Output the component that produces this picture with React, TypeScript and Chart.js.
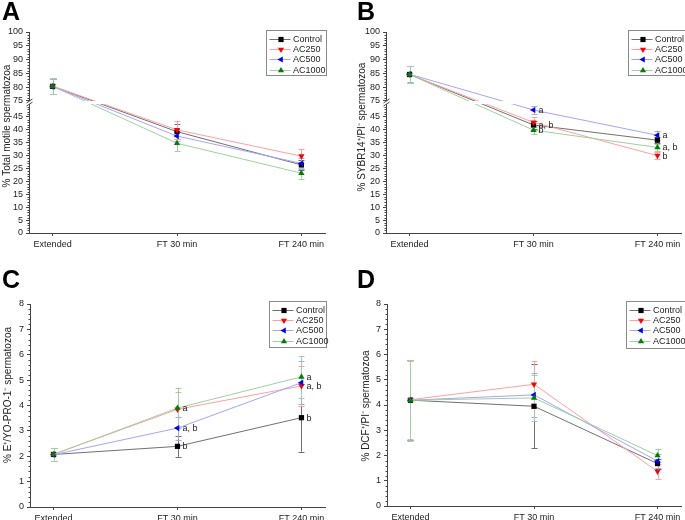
import React, { useEffect, useRef } from 'react';
import { Chart, registerables } from 'chart.js';
Chart.register(...registerables);

// ---------- data ----------
const categories = ['Extended', 'FT 30 min', 'FT 240 min'];
const seriesNames = ['Control', 'AC250', 'AC500', 'AC1000'];

// Panel A: % Total motile spermatozoa
const aControl = [80.3, 39.3, 26.4];
const aAC250 = [80.4, 40.0, 29.8];
const aAC500 = [80.2, 37.6, 27.0];
const aAC1000 = [80.3, 34.8, 23.2];
const aControlErr = [2.8, 2.9, 2.0];
const aAC250Err = [2.8, 3.6, 2.8];
const aAC500Err = [2.8, 2.0, 2.0];
const aAC1000Err = [2.9, 3.0, 2.2];

// Panel B: % SYBR14+/PI- spermatozoa
const bControl = [84.6, 41.9, 36.0];
const bAC250 = [84.6, 42.9, 30.0];
const bAC500 = [84.7, 47.7, 37.9];
const bAC1000 = [84.6, 39.9, 33.2];
const bControlErr = [3.0, 1.5, 1.2];
const bAC250Err = [3.0, 1.9, 1.3];
const bAC500Err = [3.0, 1.5, 1.8];
const bAC1000Err = [3.1, 1.6, 1.5];
const bControlNotes = ['', 'a, b', ''];
const bAC250Notes = ['', '', 'b'];
const bAC500Notes = ['', 'a', 'a'];
const bAC1000Notes = ['', 'b', 'a, b'];

// Panel C: % E+/YO-PRO-1- spermatozoa
const cControl = [2.07, 2.39, 3.52];
const cAC250 = [2.08, 3.85, 4.77];
const cAC500 = [2.06, 3.11, 4.9];
const cAC1000 = [2.07, 3.9, 5.13];
const cControlErr = [0.25, 0.41, 1.34];
const cAC250Err = [0.25, 0.7, 0.79];
const cAC500Err = [0.25, 0.45, 0.86];
const cAC1000Err = [0.26, 0.8, 0.82];
const cControlNotes = ['', 'b', 'b'];
const cAC250Notes = ['', '', 'a, b'];
const cAC500Notes = ['', 'a, b', ''];
const cAC1000Notes = ['', 'a', 'a'];

// Panel D: % DCF+/PI- spermatozoa
const dControl = [4.19, 3.95, 1.68];
const dAC250 = [4.21, 4.82, 1.37];
const dAC500 = [4.19, 4.4, 1.78];
const dAC1000 = [4.19, 4.28, 2.0];
const dControlErr = [1.58, 1.66, 0.2];
const dAC250Err = [1.55, 0.93, 0.29];
const dAC500Err = [1.58, 0.87, 0.28];
const dAC1000Err = [1.6, 0.9, 0.27];

// axis ticks
const brokenMajor = [0, 5, 10, 15, 20, 25, 30, 35, 40, 45, 75, 80, 85, 90, 95, 100];
const linearMajor = [0, 1, 2, 3, 4, 5, 6, 7, 8];

// ---------- styles ----------
const lineColors = ['#707070', '#ffa0a0', '#a4a4ff', '#a0cfa0'];
const markerColors = ['#000000', '#ff0000', '#0000ff', '#008000'];
const markerStyles = ['rect', 'down', 'left', 'up'];
const FONT = 'Arial, "Liberation Sans", sans-serif';
const GAP = 1.2;
const UPPER_K = 1.07;

const brokenDisp = (v: number) => (v <= 50 ? v : 50 + GAP + (v - 75) * UPPER_K);
const linearDisp = (v: number) => v;

function drawMarker(ctx: CanvasRenderingContext2D, style: string, x: number, y: number, color: string) {
  ctx.save();
  ctx.fillStyle = color;
  ctx.beginPath();
  if (style === 'rect') {
    ctx.rect(x - 2.6, y - 2.6, 5.2, 5.2);
  } else {
    const r = 3.6;
    let rad = style === 'up' ? 0 : style === 'down' ? Math.PI : -Math.PI / 2;
    ctx.moveTo(x + Math.sin(rad) * r, y - Math.cos(rad) * r);
    for (let k = 0; k < 2; k++) {
      rad += (2 * Math.PI) / 3;
      ctx.lineTo(x + Math.sin(rad) * r, y - Math.cos(rad) * r);
    }
    ctx.closePath();
  }
  ctx.fill();
  ctx.restore();
}

type PanelCfg = {
  left: number; top: number; width: number; height: number;
  area: { left: number; right: number; top: number; bottom: number };
  letter: string; letterX: number; letterY: number;
  title: string; titleX: number; titleY: number;
  values: number[][]; errors: number[][]; notes: string[][] | null;
  broken: boolean;
  legend: { x: number; y: number; w: number; h: number };
};

const panels: PanelCfg[] = [
  {
    left: 0, top: 0, width: 342, height: 260,
    area: { left: 29, right: 325, top: 32, bottom: 233 },
    letter: 'A', letterX: 2, letterY: 20,
    title: '% Total motile spermatozoa', titleX: 7, titleY: 126,
    values: [aControl, aAC250, aAC500, aAC1000],
    errors: [aControlErr, aAC250Err, aAC500Err, aAC1000Err],
    notes: null, broken: true,
    legend: { x: 266, y: 30, w: 60, h: 45 },
  },
  {
    left: 342, top: 0, width: 343, height: 260,
    area: { left: 44, right: 341, top: 32, bottom: 233 },
    letter: 'B', letterX: 15, letterY: 20,
    title: '% SYBR14\u207A/PI\u207B spermatozoa', titleX: 20, titleY: 127,
    values: [bControl, bAC250, bAC500, bAC1000],
    errors: [bControlErr, bAC250Err, bAC500Err, bAC1000Err],
    notes: [bControlNotes, bAC250Notes, bAC500Notes, bAC1000Notes], broken: true,
    legend: { x: 286, y: 30, w: 57, h: 45 },
  },
  {
    left: 0, top: 260, width: 342, height: 260,
    area: { left: 30, right: 325, top: 44, bottom: 247 },
    letter: 'C', letterX: 2, letterY: 28,
    title: '% E\u207A/YO-PRO-1\u207B spermatozoa', titleX: 8, titleY: 135,
    values: [cControl, cAC250, cAC500, cAC1000],
    errors: [cControlErr, cAC250Err, cAC500Err, cAC1000Err],
    notes: [cControlNotes, cAC250Notes, cAC500Notes, cAC1000Notes], broken: false,
    legend: { x: 269, y: 41, w: 57, h: 46 },
  },
  {
    left: 342, top: 260, width: 343, height: 260,
    area: { left: 45, right: 341, top: 44, bottom: 246 },
    letter: 'D', letterX: 15, letterY: 28,
    title: '% DCF\u207A/PI\u207B spermatozoa', titleX: 24, titleY: 146,
    values: [dControl, dAC250, dAC500, dAC1000],
    errors: [dControlErr, dAC250Err, dAC500Err, dAC1000Err],
    notes: null, broken: false,
    legend: { x: 284, y: 41, w: 59, h: 47 },
  },
];

function Panel({ cfg }: { cfg: PanelCfg }) {
  const ref = useRef<HTMLCanvasElement | null>(null);
  useEffect(() => {
    const canvas = ref.current;
    if (!canvas) return;
    const disp = cfg.broken ? brokenDisp : linearDisp;
    const major = cfg.broken ? brokenMajor : linearMajor;
    const yMax = cfg.broken ? disp(100) : 8;
    const minor: number[] = [];
    if (cfg.broken) {
      for (let v = 0; v < 50; v++) if (v % 5 !== 0) minor.push(v);
      for (let v = 76; v < 100; v++) if (v % 5 !== 0) minor.push(v);
    } else {
      for (let v = 0; v < 8; v++) for (let k = 1; k < 5; k++) minor.push(v + k * 0.2);
    }

    const datasets = cfg.values.map((vals, si) => ({
      label: seriesNames[si],
      data: vals.map((v, i) => ({ x: i, y: disp(v) })),
      borderColor: lineColors[si],
      backgroundColor: markerColors[si],
      borderWidth: 1,
      pointStyle: markerStyles[si] === 'rect' ? 'rect' : 'triangle',
      rotation: markerStyles[si] === 'down' ? 180 : markerStyles[si] === 'left' ? -90 : 0,
      pointRadius: markerStyles[si] === 'rect' ? 3.7 : 3.6,
      pointBackgroundColor: markerColors[si],
      pointBorderColor: markerColors[si],
      pointBorderWidth: 0,
      tension: 0,
      order: 3 - si,
    }));

    const panelPlugin = {
      id: 'panelPlugin',
      beforeDatasetsDraw(chart: any) {
        const ctx = chart.ctx as CanvasRenderingContext2D;
        const xs = chart.scales.x;
        const ys = chart.scales.y;
        ctx.save();
        ctx.lineWidth = 1;
        cfg.values.forEach((vals, si) => {
          ctx.strokeStyle = lineColors[si];
          vals.forEach((v, i) => {
            const e = cfg.errors[si][i];
            const x = Math.round(xs.getPixelForValue(i)) + 0.5;
            const y1 = ys.getPixelForValue(disp(v + e));
            const y2 = ys.getPixelForValue(disp(v - e));
            ctx.beginPath();
            ctx.moveTo(x, y1);
            ctx.lineTo(x, y2);
            ctx.moveTo(x - 3, Math.round(y1) + 0.5);
            ctx.lineTo(x + 3, Math.round(y1) + 0.5);
            ctx.moveTo(x - 3, Math.round(y2) + 0.5);
            ctx.lineTo(x + 3, Math.round(y2) + 0.5);
            ctx.stroke();
          });
        });
        ctx.restore();
      },
      afterDraw(chart: any) {
        const ctx = chart.ctx as CanvasRenderingContext2D;
        const xs = chart.scales.x;
        const ys = chart.scales.y;
        const area = chart.chartArea;
        const axisX = Math.round(area.left) + 0.5;
        ctx.save();
        // minor ticks
        ctx.strokeStyle = '#444';
        ctx.lineWidth = 1;
        ctx.beginPath();
        minor.forEach((v) => {
          const y = Math.round(ys.getPixelForValue(disp(v))) + 0.5;
          ctx.moveTo(axisX - 2, y);
          ctx.lineTo(axisX, y);
        });
        ctx.stroke();
        // axis break
        if (cfg.broken) {
          const yTop = ys.getPixelForValue(disp(75));
          const yBot = ys.getPixelForValue(50);
          ctx.fillStyle = '#ffffff';
          ctx.fillRect(area.left - 5, yTop, area.right - area.left + 5, yBot - yTop);
          ctx.strokeStyle = '#444';
          ctx.beginPath();
          ctx.moveTo(axisX - 3, yTop + 2);
          ctx.lineTo(axisX + 3, yTop - 2);
          ctx.moveTo(axisX - 3, yBot + 2);
          ctx.lineTo(axisX + 3, yBot - 2);
          ctx.stroke();
        }
        // significance notes
        if (cfg.notes) {
          ctx.fillStyle = '#222';
          ctx.font = `9px ${FONT}`;
          ctx.textAlign = 'left';
          ctx.textBaseline = 'middle';
          cfg.notes.forEach((arr, si) => {
            arr.forEach((t, i) => {
              if (!t) return;
              const x = xs.getPixelForValue(i) + 5;
              const y = ys.getPixelForValue(disp(cfg.values[si][i]));
              ctx.fillText(t, x, y + 0.5);
            });
          });
        }
        // legend
        const L = cfg.legend;
        ctx.strokeStyle = '#8a8a8a';
        ctx.lineWidth = 1;
        ctx.strokeRect(L.x + 0.5, L.y + 0.5, L.w, L.h);
        ctx.font = `9px ${FONT}`;
        ctx.textAlign = 'left';
        ctx.textBaseline = 'middle';
        seriesNames.forEach((name, si) => {
          const y = L.y + 9 + si * 10.2;
          ctx.strokeStyle = lineColors[si];
          ctx.beginPath();
          ctx.moveTo(L.x + 3.5, Math.round(y) + 0.5);
          ctx.lineTo(L.x + 24.5, Math.round(y) + 0.5);
          ctx.stroke();
          drawMarker(ctx, markerStyles[si], L.x + 15, Math.round(y) + 0.5, markerColors[si]);
          ctx.fillStyle = '#222';
          ctx.fillText(name, L.x + 27, y + 0.5);
        });
        // title
        ctx.save();
        ctx.translate(cfg.titleX, cfg.titleY);
        ctx.rotate(-Math.PI / 2);
        ctx.fillStyle = '#222';
        ctx.font = `10px ${FONT}`;
        ctx.textAlign = 'center';
        ctx.textBaseline = 'middle';
        ctx.fillText(cfg.title, 0, 0);
        ctx.restore();
        // panel letter
        ctx.fillStyle = '#000';
        ctx.font = `bold 25px ${FONT}`;
        ctx.textAlign = 'left';
        ctx.textBaseline = 'alphabetic';
        ctx.fillText(cfg.letter, cfg.letterX, cfg.letterY);
        ctx.restore();
      },
    };

    const chart = new Chart(canvas, {
      type: 'line',
      data: { datasets: datasets as any },
      options: {
        animation: false,
        responsive: false,
        devicePixelRatio: 1,
        layout: {
          padding: { left: 0, top: cfg.area.top, right: cfg.width - cfg.area.right, bottom: 0 },
        },
        plugins: { legend: { display: false }, tooltip: { enabled: false } },
        scales: {
          x: {
            type: 'linear',
            min: -0.19,
            max: 2.19,
            afterBuildTicks: (s: any) => { s.ticks = [0, 1, 2].map((v) => ({ value: v })); },
            afterFit: (s: any) => { s.height = cfg.height - cfg.area.bottom; },
            ticks: {
              autoSkip: false,
              maxRotation: 0,
              padding: 3,
              color: '#222',
              font: { family: FONT, size: 9 },
              callback: (_v: any, i: number) => categories[i],
            },
            grid: { drawOnChartArea: false, drawTicks: true, tickLength: 3, color: '#444' },
            border: { display: true, color: '#444', width: 1 },
          },
          y: {
            type: 'linear',
            min: 0,
            max: yMax,
            afterBuildTicks: (s: any) => { s.ticks = major.map((v) => ({ value: disp(v) })); },
            afterFit: (s: any) => { s.width = cfg.area.left; },
            ticks: {
              autoSkip: false,
              padding: 3,
              color: '#222',
              font: { family: FONT, size: 9 },
              callback: (_v: any, i: number) => String(major[i]),
            },
            grid: { drawOnChartArea: false, drawTicks: true, tickLength: 3, color: '#444' },
            border: { display: true, color: '#444', width: 1 },
          },
        },
      } as any,
      plugins: [panelPlugin],
    });
    return () => chart.destroy();
  }, [cfg]);
  return (
    <canvas
      ref={ref}
      width={cfg.width}
      height={cfg.height}
      style={{ position: 'absolute', left: cfg.left, top: cfg.top, width: cfg.width, height: cfg.height }}
    />
  );
}

export default function App() {
  return (
    <div style={{ position: 'absolute', left: 0, top: 0, width: 685, height: 520, background: '#fff', overflow: 'hidden' }}>
      {panels.map((p) => (
        <Panel key={p.letter} cfg={p} />
      ))}
    </div>
  );
}
